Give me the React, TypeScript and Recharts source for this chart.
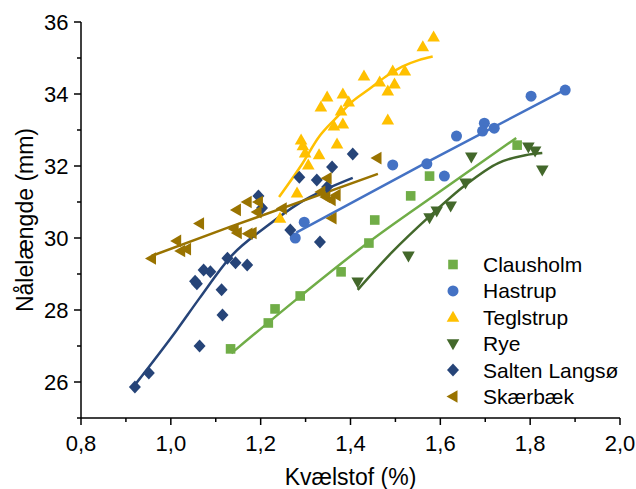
import React from 'react';
import { ComposedChart, Scatter, Line, XAxis, YAxis, Legend } from 'recharts';

// measured points, [kvælstof %, nålelængde mm]
const clausholm = [
  [1.133, 26.92], [1.217, 27.64], [1.232, 28.03], [1.288, 28.39], [1.379, 29.06],
  [1.441, 29.86], [1.454, 30.5], [1.534, 31.17], [1.576, 31.72], [1.771, 32.58],
];
const hastrup = [
  [1.277, 30.0], [1.297, 30.44], [1.494, 32.03], [1.570, 32.06], [1.609, 31.72], [1.636, 32.83],
  [1.698, 33.19], [1.694, 32.97], [1.720, 33.05], [1.802, 33.94], [1.878, 34.11],
];
const teglstrup = [
  [1.243, 30.55], [1.281, 31.25], [1.290, 32.72], [1.294, 32.56], [1.299, 32.36], [1.306, 32.03],
  [1.330, 32.31], [1.334, 33.64], [1.348, 33.92], [1.363, 33.11], [1.370, 32.61], [1.379, 33.53],
  [1.383, 34.0], [1.383, 33.17], [1.396, 33.78], [1.430, 34.5], [1.465, 34.33], [1.483, 34.08],
  [1.483, 33.28], [1.494, 34.64], [1.498, 34.28], [1.521, 34.64], [1.561, 35.31], [1.585, 35.58],
];
const rye = [
  [1.416, 28.78], [1.529, 29.5], [1.576, 30.56], [1.592, 30.75], [1.623, 30.89],
  [1.656, 31.53], [1.669, 32.25], [1.796, 32.53], [1.811, 32.42], [1.827, 31.89],
];
const saltenLangso = [
  [0.920, 25.86], [0.951, 26.25], [1.054, 28.8], [1.058, 28.73], [1.064, 27.0], [1.073, 29.11],
  [1.088, 29.06], [1.113, 28.56], [1.115, 27.86], [1.126, 29.44], [1.144, 29.31], [1.170, 29.25],
  [1.195, 31.17], [1.203, 30.83], [1.266, 30.22], [1.286, 31.69], [1.325, 31.61], [1.332, 29.89],
  [1.348, 31.42], [1.359, 31.97], [1.405, 32.33],
];
const skaerbaek = [
  [0.957, 29.43], [1.013, 29.92], [1.022, 29.64], [1.035, 29.69], [1.064, 30.4], [1.146, 30.78],
  [1.141, 30.25], [1.148, 30.14], [1.170, 31.0], [1.172, 30.12], [1.181, 30.14], [1.192, 30.72],
  [1.195, 31.0], [1.248, 30.82], [1.334, 31.28], [1.345, 31.14], [1.357, 31.06], [1.348, 31.66],
  [1.359, 30.55], [1.368, 31.19], [1.459, 32.22],
];

// fitted curves
const clausholmFit = [[1.135, 26.8], [1.29, 28.4], [1.441, 29.89], [1.60, 31.3], [1.769, 32.78]];
const hastrupFit = [[1.279, 30.15], [1.58, 32.17], [1.875, 34.1]];
const teglstrupFit = [
  [1.241, 31.14], [1.293, 32.07], [1.330, 32.81], [1.367, 33.32], [1.404, 33.79],
  [1.441, 34.13], [1.478, 34.48], [1.515, 34.76], [1.552, 34.94], [1.583, 35.04],
];
const ryeFit = [[1.416, 28.56], [1.492, 29.6], [1.574, 30.58], [1.656, 31.47], [1.729, 32.08], [1.789, 32.3], [1.827, 32.36]];
const saltenFit = [[0.920, 25.92], [1.013, 27.44], [1.064, 28.33], [1.137, 29.53], [1.212, 30.31], [1.286, 30.97], [1.405, 31.67]];
const skaerbaekFit = [[0.957, 29.5], [1.13, 30.3], [1.461, 31.78]];

const xTicks = [0.8, 0.9, 1.0, 1.1, 1.2, 1.3, 1.4, 1.5, 1.6, 1.7, 1.8, 1.9, 2.0];
const yTicks = [25, 26, 27, 28, 29, 30, 31, 32, 33, 34, 35, 36];

const FONT = '"Liberation Sans", Arial, sans-serif';

const pts = (arr: number[][]) => arr.map(([x, y]) => ({ x, y }));

type Shape = 'square' | 'circle' | 'up' | 'down' | 'diamond' | 'left';

const Marker = ({ cx, cy, fill, shape }: { cx: number; cy: number; fill: string; shape: Shape }) => {
  if (cx == null || cy == null) return null;
  switch (shape) {
    case 'square':
      return <rect x={cx - 4.8} y={cy - 4.8} width={9.6} height={9.6} fill={fill} />;
    case 'circle':
      return <circle cx={cx} cy={cy} r={5.5} fill={fill} />;
    case 'up':
      return <polygon points={`${cx},${cy - 6.5} ${cx + 6.3},${cy + 4.5} ${cx - 6.3},${cy + 4.5}`} fill={fill} />;
    case 'down':
      return <polygon points={`${cx},${cy + 6.5} ${cx + 6.3},${cy - 4.5} ${cx - 6.3},${cy - 4.5}`} fill={fill} />;
    case 'diamond':
      return <polygon points={`${cx},${cy - 6.5} ${cx + 6},${cy} ${cx},${cy + 6.5} ${cx - 6},${cy}`} fill={fill} />;
    default:
      return <polygon points={`${cx - 6.5},${cy} ${cx + 4.5},${cy - 6.3} ${cx + 4.5},${cy + 6.3}`} fill={fill} />;
  }
};

const series = [
  { name: 'Clausholm', data: clausholm, fit: clausholmFit, color: '#70AD47', shape: 'square' as Shape },
  { name: 'Hastrup', data: hastrup, fit: hastrupFit, color: '#4472C4', shape: 'circle' as Shape },
  { name: 'Teglstrup', data: teglstrup, fit: teglstrupFit, color: '#FFC000', shape: 'up' as Shape },
  { name: 'Rye', data: rye, fit: ryeFit, color: '#43682B', shape: 'down' as Shape },
  { name: 'Salten Langsø', data: saltenLangso, fit: saltenFit, color: '#264478', shape: 'diamond' as Shape },
  { name: 'Skærbæk', data: skaerbaek, fit: skaerbaekFit, color: '#997300', shape: 'left' as Shape },
];

const XTick = (props: any) => {
  const { x, y, payload } = props;
  const v = payload.value;
  const major = Math.round(v * 10) % 2 === 0;
  return (
    <g>
      <line x1={x} y1={y} x2={x} y2={y + (major ? 7 : 4)} stroke="#000" strokeWidth={1.5} />
      {major && (
        <text x={x} y={y + 33} textAnchor="middle" fontSize={22} fontFamily={FONT} fill="#000">
          {v.toFixed(1).replace('.', ',')}
        </text>
      )}
    </g>
  );
};

const YTick = (props: any) => {
  const { x, y, payload } = props;
  const v = payload.value;
  const major = v % 2 === 0;
  return (
    <g>
      <line x1={x} y1={y} x2={x - (major ? 7 : 4)} y2={y} stroke="#000" strokeWidth={1.5} />
      {major && (
        <text x={x - 12.5} y={y + 8} textAnchor="end" fontSize={22} fontFamily={FONT} fill="#000">
          {v}
        </text>
      )}
    </g>
  );
};

const LegendBox = () => (
  <svg width={200} height={165} style={{ display: 'block' }}>
    {series.map((s, i) => (
      <g key={s.name}>
        <Marker cx={16} cy={13.5 + i * 26.4} fill={s.color} shape={s.shape} />
        <text x={46} y={13.5 + i * 26.4 + 7.5} fontSize={21} fontFamily={FONT} fill="#000">
          {s.name}
        </text>
      </g>
    ))}
  </svg>
);

export default function App() {
  return (
    <div style={{ width: 636, height: 489, background: '#fff' }}>
      <style>{'body { margin: 0; }'}</style>
      <ComposedChart width={636} height={489} margin={{ top: 22, right: 16, bottom: 0, left: 0 }}>
        <XAxis
          type="number"
          dataKey="x"
          domain={[0.8, 2.0]}
          ticks={xTicks}
          interval={0}
          height={71}
          tickSize={0}
          tickMargin={0}
          tickLine={false}
          tick={<XTick />}
          axisLine={{ stroke: '#000', strokeWidth: 1.5 }}
          allowDataOverflow
          label={(p: any) => {
            const vb = p.viewBox;
            return (
              <text x={vb.x + vb.width / 2} y={vb.y + 67} textAnchor="middle" fontSize={23} fontFamily={FONT} fill="#000">
                Kvælstof (%)
              </text>
            );
          }}
        />
        <YAxis
          type="number"
          dataKey="y"
          domain={[25, 36]}
          ticks={yTicks}
          interval={0}
          width={81}
          tickSize={0}
          tickMargin={0}
          tickLine={false}
          tick={<YTick />}
          axisLine={{ stroke: '#000', strokeWidth: 1.5 }}
          allowDataOverflow
          label={(p: any) => {
            const vb = p.viewBox;
            const cy = vb.y + vb.height / 2;
            return (
              <text x={33} y={cy} transform={`rotate(-90, 33, ${cy})`} textAnchor="middle" fontSize={23} fontFamily={FONT} fill="#000">
                Nålelængde (mm)
              </text>
            );
          }}
        />
        {series.map((s) => (
          <Scatter
            key={s.name}
            name={s.name}
            data={pts(s.data)}
            dataKey="y"
            fill={s.color}
            isAnimationActive={false}
            shape={(p: any) => <Marker cx={p.cx} cy={p.cy} fill={s.color} shape={s.shape} />}
          />
        ))}
        {series.map((s) => (
          <Line
            key={s.name + '-fit'}
            data={pts(s.fit)}
            dataKey="y"
            type="monotone"
            stroke={s.color}
            strokeWidth={2.5}
            dot={false}
            activeDot={false}
            legendType="none"
            isAnimationActive={false}
          />
        ))}
        <Legend
          layout="vertical"
          align="center"
          verticalAlign="middle"
          content={() => <LegendBox />}
          wrapperStyle={{ left: 437, top: 251, width: 200 }}
        />
      </ComposedChart>
    </div>
  );
}
